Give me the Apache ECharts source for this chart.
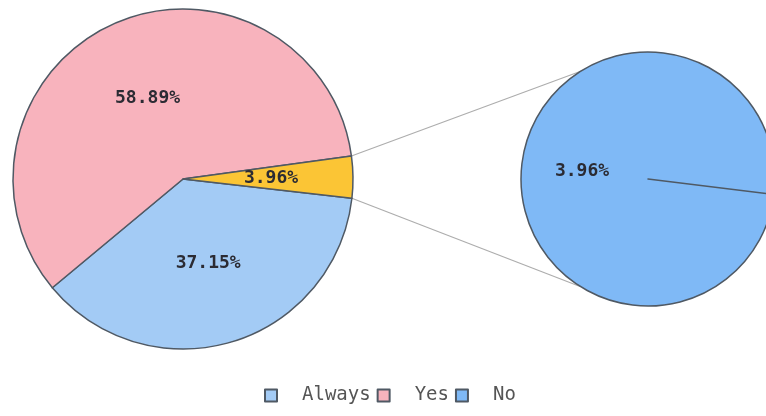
<!DOCTYPE html>
<html>
<head>
<meta charset="utf-8">
<script src="https://cdn.jsdelivr.net/npm/echarts@6/dist/echarts.min.js"></script>
<style>html,body{margin:0;padding:0;background:#fff;}#c{width:766px;height:416px;}</style>
</head>
<body>
<div id="c"></div>
<script>
// Data
const categories = ['Always', 'Yes', 'No'];
const mainValues = [37.15, 58.89, 3.96];
const detailNames = ['No', ''];
const detailValues = [3.96, 0];

const colors = { Always: '#a3cbf5', Yes: '#f8b3bd', No: '#fbc535' };
const detailColor = '#7fb9f6';
const border = { borderColor: '#4f5964', borderWidth: 1.5 };
const font = 'DejaVu Sans Mono';

(function () {
const chart = echarts.init(document.getElementById('c'), null, { renderer: 'canvas' });

const mainData = categories.map((n, i) => ({
  name: n, value: mainValues[i],
  itemStyle: Object.assign({ color: colors[n] }, border)
}));
const detailData = detailNames.map((n, i) => ({
  name: n, value: detailValues[i],
  itemStyle: Object.assign({ color: detailColor }, border),
  label: { show: i === 0 }
}));

const labelStyle = {
  show: true, position: 'inside', formatter: '{c}%',
  fontFamily: font, fontSize: 18, fontWeight: 'bold', color: '#2b2b33'
};

chart.setOption({
  animation: false,
  legend: {
    data: categories,
    bottom: 6, left: 259,
    icon: 'rect', itemWidth: 12, itemHeight: 12, itemGap: 6,
    textStyle: { fontFamily: font, fontSize: 19, color: '#555', padding: [0, 0, 0, 20] }
  },
  series: [
    {
      type: 'pie', center: [648, 179], radius: 127,
      startAngle: -7, clockwise: true,
      data: detailData, label: labelStyle, labelLine: { show: false },
      emphasis: { disabled: true }, silent: true
    },
    {
      type: 'pie', center: [183, 179], radius: 170,
      startAngle: -6.5, clockwise: true,
      data: mainData, label: labelStyle, labelLine: { show: false },
      emphasis: { disabled: true }, silent: true
    }
  ]
});

// connector lines derived from the library's layout
const model = chart.getModel();
const lay = model.getSeriesByIndex(1).getData().getItemLayout(2);
const lay2 = model.getSeriesByIndex(0).getData().getItemLayout(0);
const p1 = [lay.cx + lay.r * Math.cos(lay.startAngle), lay.cy + lay.r * Math.sin(lay.startAngle)];
const p2 = [lay.cx + lay.r * Math.cos(lay.endAngle), lay.cy + lay.r * Math.sin(lay.endAngle)];
const upper = p1[1] < p2[1] ? p1 : p2, lower = p1[1] < p2[1] ? p2 : p1;
const a = 122 * Math.PI / 180;
const q1 = [lay2.cx + lay2.r * Math.cos(a), lay2.cy - lay2.r * Math.sin(a)];
const q2 = [lay2.cx + lay2.r * Math.cos(a), lay2.cy + lay2.r * Math.sin(a)];
chart.setOption({
  graphic: [
    { type: 'line', shape: { x1: upper[0], y1: upper[1], x2: q1[0], y2: q1[1] }, style: { stroke: '#adadad', lineWidth: 1.2 }, z: -1 },
    { type: 'line', shape: { x1: lower[0], y1: lower[1], x2: q2[0], y2: q2[1] }, style: { stroke: '#adadad', lineWidth: 1.2 }, z: -1 }
  ]
});
})();
</script>
</body>
</html>
